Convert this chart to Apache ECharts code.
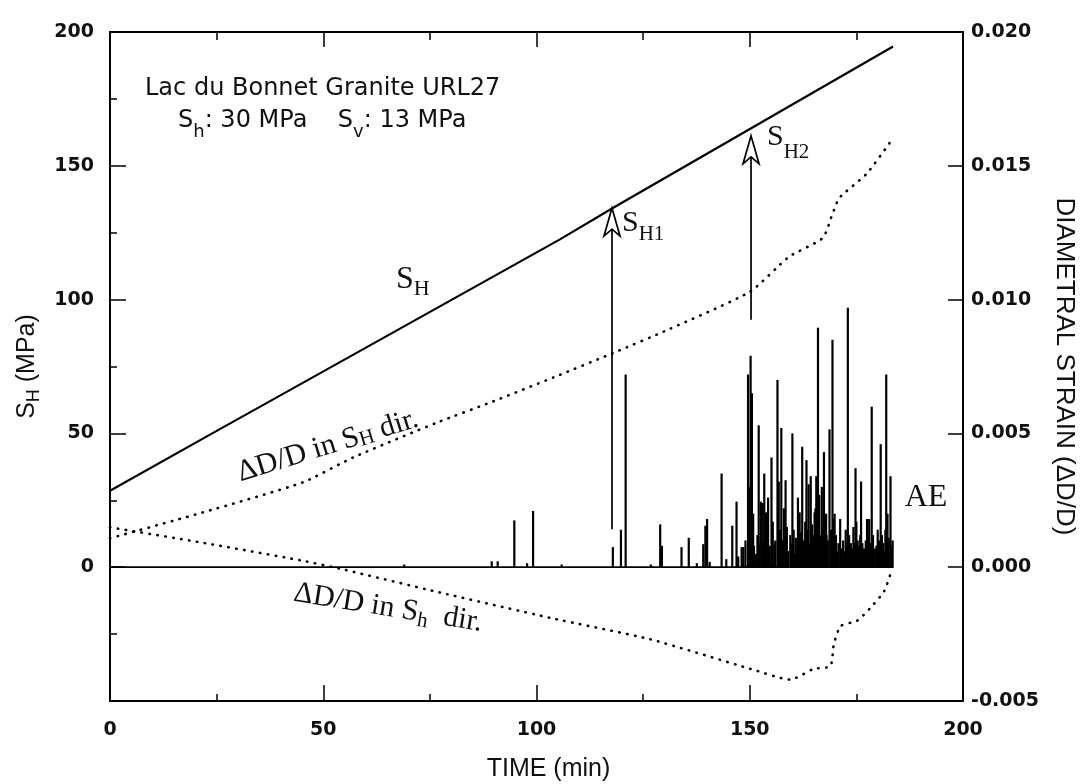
<!DOCTYPE html>
<html>
<head>
<meta charset="utf-8">
<script src="https://cdn.jsdelivr.net/npm/echarts@6/dist/echarts.min.js"></script>
<style>
html,body{margin:0;padding:0;background:#fff}
#main{width:1082px;height:784px}
</style>
</head>
<body>
<div id="main"></div>
<script>
// tick labels
var timeTicks = [0, 50, 100, 150, 200];
var stressTicks = [0, 50, 100, 150, 200];
var strainTickLabels = ['-0.005', '0.000', '0.005', '0.010', '0.015', '0.020'];

// S_H loading (MPa) vs time (min)
var stressSH = [[0, 28.6], [22.4, 48.6], [22.6, 49.3], [105.5, 122.5], [118, 134.3], [160.4, 173.3], [183.6, 194.6]];

// diametral strain in S_H direction
var strainSHdir = [[0, 0.00108], [21.6, 0.00204], [45.2, 0.00317], [57, 0.0041], [76.6, 0.0054], [89.9, 0.0062],
  [104.1, 0.0071], [117.9, 0.0080], [131.2, 0.0089], [150.1, 0.0103], [159.2, 0.0116], [167.1, 0.0123],
  [169.4, 0.0132], [171, 0.0138], [177.4, 0.0147], [183, 0.0159]];

// diametral strain in S_h direction
var strainShdir = [[0, 0.00149], [21.5, 0.00092], [44.9, 0.00025], [55.1, -0.0001], [76.1, -0.0009], [103.4, -0.0019],
  [126.8, -0.0027], [150.2, -0.0038], [159.5, -0.0042], [165, -0.0038], [168.9, -0.0037], [169.7, -0.0029],
  [171.3, -0.0022], [175.2, -0.0020], [178.4, -0.0015], [181.5, -0.0009], [183.1, -0.0002]];

// AE trace: baseline and hits (time, height in left-axis units)
var aeBaseline = [[0, 0], [183.7, 0]];
var aeHits = [
  [69.0, 1], [89.5, 2.2], [90.9, 2.2], [94.8, 17.5], [97.8, 1.5], [99.2, 21], [105.9, 1],
  [117.9, 7.5], [119.8, 14], [120.9, 72], [126.8, 1], [129.0, 16], [129.4, 8], [134.0, 7.5], [135.7, 11],
  [137.6, 1.5], [139.1, 8.6], [139.6, 15.5], [140.0, 18], [140.6, 2], [143.4, 35], [144.5, 3], [145.9, 15.5],
  [146.9, 24.5], [147.3, 4], [148.1, 7.5], [148.5, 7.5], [149.0, 10], [149.6, 72], [149.9, 30], [150.2, 79],
  [150.5, 65], [150.8, 20], [151.0, 8], [151.5, 5], [151.8, 12], [152.1, 53], [152.4, 9], [152.6, 24.5],
  [153.0, 24], [153.2, 10], [153.4, 35], [153.8, 20.5], [154.0, 12], [154.3, 26], [154.7, 8], [155.1, 41],
  [155.4, 17], [155.8, 9], [156.0, 10], [156.5, 70], [156.8, 32], [157.1, 14], [157.4, 52], [157.8, 10],
  [158.0, 22], [158.4, 32.5], [158.7, 15], [159.0, 6], [159.5, 12], [159.7, 9], [160.0, 50], [160.3, 14],
  [160.5, 5], [160.8, 11], [161.0, 7], [161.3, 26], [161.7, 20.5], [162.0, 13], [162.3, 45], [162.7, 10],
  [163.0, 17], [163.3, 40], [163.6, 14], [163.8, 31], [164.0, 9], [164.3, 34], [164.6, 16], [164.8, 12],
  [165.0, 11], [165.2, 20.5], [165.4, 22], [165.6, 34], [165.8, 14], [166.0, 89.5], [166.3, 27], [166.6, 12],
  [166.9, 30], [167.1, 15], [167.4, 43], [167.6, 9], [167.9, 20], [168.0, 12], [168.3, 10], [168.7, 51.5],
  [169.1, 14], [169.4, 85], [169.6, 18], [169.9, 20], [170.2, 12], [170.5, 6], [170.8, 9], [171.2, 18],
  [171.5, 7], [171.9, 10], [172.2, 6], [172.5, 14], [172.8, 8], [173.0, 97], [173.3, 12], [173.7, 9],
  [174.0, 7], [174.3, 15], [174.6, 9], [174.8, 37], [175.0, 17], [175.3, 10], [175.6, 8], [175.9, 12],
  [176.1, 32], [176.4, 9], [176.8, 7], [177.2, 10], [177.5, 18], [177.8, 12], [178.0, 18], [178.3, 9],
  [178.6, 60], [178.9, 12], [179.4, 7], [179.7, 8], [180.0, 14], [180.3, 10], [180.7, 46], [181.0, 12],
  [181.3, 9], [181.5, 6], [181.8, 14], [182.0, 72], [182.3, 20], [182.6, 11], [183.0, 34], [183.2, 8],
  [183.5, 10]
];

// S_H1 / S_H2 arrows: time, from, to (MPa)
var arrowsSH = [[117.7, 14.2, 134.2], [150.3, 92.5, 161.2]];

var sans = 'DejaVu Sans';
var serif = 'Liberation Serif';
var ink = '#111';

function axisBase(extra) {
  var a = {
    axisLine: {show: true, onZero: false, lineStyle: {color: '#000', width: 2}},
    axisTick: {show: true, inside: true, length: 16, lineStyle: {color: '#000', width: 1.5}},
    splitLine: {show: false},
    minorSplitLine: {show: false},
    axisLabel: {fontFamily: sans, fontSize: 19, fontWeight: 'bold', color: ink}
  };
  for (var k in extra) a[k] = extra[k];
  return a;
}

var chart = echarts.init(document.getElementById('main'));

var option = {
  animation: false,
  backgroundColor: '#fff',
  grid: {left: 110, right: 119, top: 32, bottom: 83, containLabel: false, outerBoundsMode: 'none'},
  xAxis: [
    axisBase({
      type: 'value', min: 0, max: 200, interval: 50, position: 'bottom',
      minorTick: {show: true, splitNumber: 2, length: 7, lineStyle: {color: '#000', width: 1.5}},
      axisLabel: {fontFamily: sans, fontSize: 19, fontWeight: 'bold', color: ink, margin: 20,
        formatter: function (v) { return timeTicks.indexOf(v) >= 0 ? String(v) : ''; }},
      name: 'TIME (min)', nameLocation: 'middle', nameGap: 56,
      nameTextStyle: {fontFamily: 'Liberation Sans', fontSize: 25, color: ink, padding: [0, 0, 0, 24]}
    }),
    axisBase({
      type: 'value', min: 0, max: 200, interval: 50, position: 'top',
      axisTick: {show: true, inside: true, length: 15, lineStyle: {color: '#000', width: 1.5}},
      minorTick: {show: true, splitNumber: 2, length: 8, lineStyle: {color: '#000', width: 1.5}},
      axisLabel: {show: false}
    })
  ],
  yAxis: [
    axisBase({
      type: 'value', min: -50, max: 200, interval: 50, position: 'left',
      minorTick: {show: true, splitNumber: 2, length: 7, lineStyle: {color: '#000', width: 1.5}},
      axisLabel: {fontFamily: sans, fontSize: 19, fontWeight: 'bold', color: ink, margin: 16,
        formatter: function (v) { return stressTicks.indexOf(v) >= 0 ? String(v) : ''; }},
      name: '{m|S}{s|H}{m| (MPa)}', nameLocation: 'middle', nameRotate: 90, nameGap: 56,
      nameTextStyle: {
        rich: {
          m: {fontFamily: 'Liberation Sans', fontSize: 25, color: ink, lineHeight: 32},
          s: {fontFamily: 'Liberation Sans', fontSize: 18, color: ink, lineHeight: 16, verticalAlign: 'bottom'}
        }
      }
    }),
    axisBase({
      type: 'value', min: -0.005, max: 0.020, interval: 0.005, position: 'right',
      axisTick: {show: true, inside: true, length: 15, lineStyle: {color: '#000', width: 1.5}},
      axisLabel: {fontFamily: sans, fontSize: 19, fontWeight: 'bold', color: ink, margin: 8,
        formatter: function (v) { return strainTickLabels[Math.round((v + 0.005) / 0.005)]; }},
      name: 'DIAMETRAL STRAIN (ΔD/D)', nameLocation: 'middle', nameRotate: -90, nameGap: 88,
      nameTextStyle: {fontFamily: 'Liberation Sans', fontSize: 26, color: ink}
    })
  ],
  series: [
    {
      name: 'AE baseline', type: 'line', xAxisIndex: 0, yAxisIndex: 0, data: aeBaseline,
      symbol: 'none', lineStyle: {color: '#000', width: 1.8}, z: 3
    },
    {
      name: 'AE', type: 'bar', xAxisIndex: 0, yAxisIndex: 0, data: aeHits,
      barWidth: 2.2, itemStyle: {color: '#000'}, z: 3
    },
    {
      name: 'SH', type: 'line', xAxisIndex: 0, yAxisIndex: 0, data: stressSH,
      symbol: 'none', lineStyle: {color: '#000', width: 2.2}, z: 4
    },
    {
      name: 'dD/D SH dir', type: 'line', xAxisIndex: 0, yAxisIndex: 1, data: strainSHdir,
      symbol: 'none', smooth: 0.2,
      lineStyle: {color: '#000', width: 2.6, type: [0.5, 7.5], cap: 'round'}, z: 4
    },
    {
      name: 'dD/D Sh dir', type: 'line', xAxisIndex: 0, yAxisIndex: 1, data: strainShdir,
      symbol: 'none', smooth: 0.2,
      lineStyle: {color: '#000', width: 2.6, type: [0.5, 7.5], cap: 'round'}, z: 4
    },
    {
      name: 'arrows', type: 'custom', xAxisIndex: 0, yAxisIndex: 0, data: arrowsSH,
      encode: {x: 0, y: [1, 2]}, z: 6, silent: true,
      renderItem: function (params, api) {
        var base = api.coord([api.value(0), api.value(1)]);
        var tip = api.coord([api.value(0), api.value(2)]);
        var x = tip[0], y = tip[1];
        return {
          type: 'group',
          children: [
            {type: 'line', shape: {x1: base[0], y1: base[1], x2: x, y2: y + 21},
              style: {stroke: '#000', lineWidth: 1.7}},
            {type: 'polygon', shape: {points: [[x, y], [x - 8, y + 28], [x, y + 21], [x + 8, y + 28]]},
              style: {fill: '#fff', stroke: '#000', lineWidth: 1.7}}
          ]
        };
      }
    }
  ],
  graphic: {
    elements: [
      {type: 'text', x: 145, y: 89, z: 10,
        style: {text: 'Lac du Bonnet Granite URL27', fontFamily: sans, fontSize: 24, fill: ink, verticalAlign: 'middle'}},
      {type: 'text', x: 178, y: 121, z: 10,
        style: {text: '{m|S}{s|h}{m|: 30 MPa    S}{s|v}{m|: 13 MPa}', verticalAlign: 'middle', fill: ink,
          rich: {
            m: {fontFamily: sans, fontSize: 24, lineHeight: 40, fill: ink},
            s: {fontFamily: sans, fontSize: 18, lineHeight: 14, verticalAlign: 'bottom', fill: ink}
          }}},
      {type: 'text', x: 396, y: 280, z: 10,
        style: {text: '{m|S}{s|H}', verticalAlign: 'middle', fill: ink,
          rich: {
            m: {fontFamily: serif, fontSize: 32, lineHeight: 40, fill: ink},
            s: {fontFamily: serif, fontSize: 22, lineHeight: 16, verticalAlign: 'bottom', fill: ink}
          }}},
      {type: 'text', x: 622, y: 223, z: 10,
        style: {text: '{m|S}{s|H1}', verticalAlign: 'middle', fill: ink,
          rich: {
            m: {fontFamily: serif, fontSize: 30, lineHeight: 44, fill: ink},
            s: {fontFamily: serif, fontSize: 21, lineHeight: 15, verticalAlign: 'bottom', fill: ink}
          }}},
      {type: 'text', x: 767, y: 137, z: 10,
        style: {text: '{m|S}{s|H2}', verticalAlign: 'middle', fill: ink,
          rich: {
            m: {fontFamily: serif, fontSize: 30, lineHeight: 52, fill: ink},
            s: {fontFamily: serif, fontSize: 21, lineHeight: 15, verticalAlign: 'bottom', fill: ink}
          }}},
      {type: 'text', x: 926, y: 498, z: 10,
        style: {text: 'AE', fontFamily: serif, fontSize: 32, fill: ink, align: 'center', verticalAlign: 'middle'}},
      {type: 'text', x: 328, y: 446, rotation: 0.30, z: 10,
        style: {text: '{m|ΔD/D in S}{s|H}{m| dir.}', align: 'center', verticalAlign: 'middle', fill: ink,
          rich: {
            m: {fontFamily: serif, fontSize: 30, lineHeight: 30, fill: ink},
            s: {fontFamily: serif, fontSize: 21, lineHeight: 20, verticalAlign: 'bottom', fill: ink}
          }}},
      {type: 'text', x: 388, y: 608, rotation: -0.16, z: 10,
        style: {text: '{m|ΔD/D in S}{s|h}{m|  dir.}', align: 'center', verticalAlign: 'middle', fill: ink,
          rich: {
            m: {fontFamily: serif, fontSize: 30, lineHeight: 36, fill: ink},
            s: {fontFamily: serif, fontSize: 21, lineHeight: 16, verticalAlign: 'bottom', fill: ink}
          }}}
    ]
  }
};

chart.setOption(option);
</script>
</body>
</html>
